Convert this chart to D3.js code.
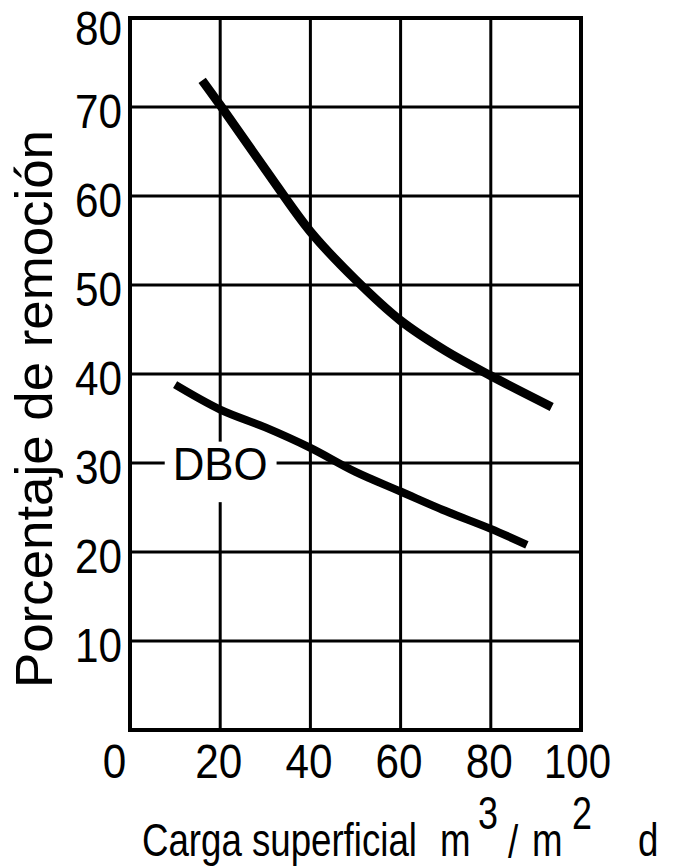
<!DOCTYPE html>
<html>
<head>
<meta charset="utf-8">
<script src="https://cdn.jsdelivr.net/npm/d3@7"></script>
<style>
  html, body { margin: 0; padding: 0; background: #fff; }
  svg { display: block; }
  .lbl { font-family: "Liberation Sans", Arial, Helvetica, sans-serif; fill: #000; }
</style>
</head>
<body>
<svg id="chart" width="673" height="868"></svg>
<script>
// ---- data ----
const xTickValues = [0, 20, 40, 60, 80, 100];
const yTickValues = [10, 20, 30, 40, 50, 60, 70, 80];

// upper curve (unlabelled)
const upperX = [16, 20, 30, 40, 50, 60, 70, 80, 93.5];
const upperY = [73.0, 70.2, 63.0, 56.0, 50.6, 46.0, 42.6, 39.8, 36.3];

// lower curve (DBO)
const dboX = [10, 20, 30, 40, 50, 60, 70, 80, 88];
const dboY = [38.8, 36.0, 34.0, 31.7, 29.0, 26.8, 24.6, 22.6, 20.8];

const xTitle = "Carga superficial";
const yTitle = "Porcentaje de remoción";
const curveLabel = "DBO";

// ---- layout ----
const svg = d3.select("#chart");
const x = d3.scaleLinear().domain([0, 100]).range([130, 581]);
const y = d3.scaleLinear().domain([0, 80]).range([730, 18]);

// grid
const g = svg.append("g");
g.selectAll("line.v").data(xTickValues.filter(d => d > 0 && d < 100)).join("line")
  .attr("x1", d => x(d)).attr("x2", d => x(d))
  .attr("y1", y(80)).attr("y2", y(0))
  .attr("stroke", "#000").attr("stroke-width", 3);
g.selectAll("line.h").data(yTickValues.filter(d => d < 80)).join("line")
  .attr("y1", d => y(d)).attr("y2", d => y(d))
  .attr("x1", x(0)).attr("x2", x(100))
  .attr("stroke", "#000").attr("stroke-width", 3);

// white box behind DBO label
svg.append("rect")
  .attr("x", x(7.7)).attr("y", y(32.4))
  .attr("width", x(32.5) - x(7.7)).attr("height", y(25.6) - y(32.4))
  .attr("fill", "#fff");

// frame
svg.append("rect")
  .attr("x", x(0)).attr("y", y(80))
  .attr("width", x(100) - x(0)).attr("height", y(0) - y(80))
  .attr("fill", "none").attr("stroke", "#000").attr("stroke-width", 4);

// curves
const line = d3.line().x(d => x(d[0])).y(d => y(d[1])).curve(d3.curveCatmullRom.alpha(0.5));
svg.append("path").datum(d3.zip(upperX, upperY))
  .attr("d", line).attr("fill", "none").attr("stroke", "#000")
  .attr("stroke-width", 9).attr("stroke-linecap", "butt");
svg.append("path").datum(d3.zip(dboX, dboY))
  .attr("d", line).attr("fill", "none").attr("stroke", "#000")
  .attr("stroke-width", 8).attr("stroke-linecap", "butt");

// DBO label
svg.append("text").attr("class", "lbl")
  .attr("x", x(20)).attr("y", y(30) + 17)
  .attr("text-anchor", "middle")
  .attr("font-size", 46)
  .attr("textLength", 95).attr("lengthAdjust", "spacingAndGlyphs")
  .text(curveLabel);

// axes
const digitW = 23.5;
const yAxis = svg.append("g").attr("transform", `translate(${x(0)},0)`)
  .call(d3.axisLeft(y).tickValues(yTickValues).tickSize(0).tickPadding(8));
yAxis.select(".domain").remove();
yAxis.selectAll("text").attr("class", "lbl").attr("font-size", 48)
  .attr("font-family", null)
  .attr("textLength", d => String(d).length * digitW).attr("lengthAdjust", "spacingAndGlyphs")
  .attr("dy", d => d === 80 ? "0.56em" : "0.43em");

const xAxis = svg.append("g").attr("transform", `translate(0,${y(0)})`)
  .call(d3.axisBottom(x).tickValues(xTickValues).tickSize(0));
xAxis.select(".domain").remove();
xAxis.selectAll("text").attr("class", "lbl").attr("font-size", 48)
  .attr("font-family", null)
  .attr("textLength", d => String(d).length * (d === 100 ? 22.3 : digitW)).attr("lengthAdjust", "spacingAndGlyphs")
  .attr("y", 31).attr("dy", "0.36em")
  .attr("dx", d => d === 0 ? -16 : (d === 100 ? -4 : -2));

// y title
svg.append("text").attr("class", "lbl")
  .attr("transform", `translate(52,${409}) rotate(-90)`)
  .attr("text-anchor", "middle")
  .attr("font-size", 52)
  .attr("textLength", 558).attr("lengthAdjust", "spacingAndGlyphs")
  .text(yTitle);

// x title pieces: "Carga superficial  m³/m²d", horizontally condensed
const sx = 0.78;
const xtParts = [
  { t: xTitle, x: 142, base: 856, fs: 47 },
  { t: "m", x: 440, base: 856, fs: 47 },
  { t: "3", x: 478, base: 829, fs: 46 },
  { t: "/", x: 508, base: 858, fs: 47 },
  { t: "m", x: 532, base: 856, fs: 47 },
  { t: "2", x: 572, base: 829, fs: 46 },
  { t: "d", x: 638, base: 856, fs: 47 }
];
svg.append("g").attr("transform", `scale(${sx},1)`)
  .selectAll("text").data(xtParts).join("text")
  .attr("class", "lbl")
  .attr("font-size", d => d.fs)
  .attr("x", d => d.x / sx).attr("y", d => d.base)
  .text(d => d.t);
</script>
</body>
</html>
